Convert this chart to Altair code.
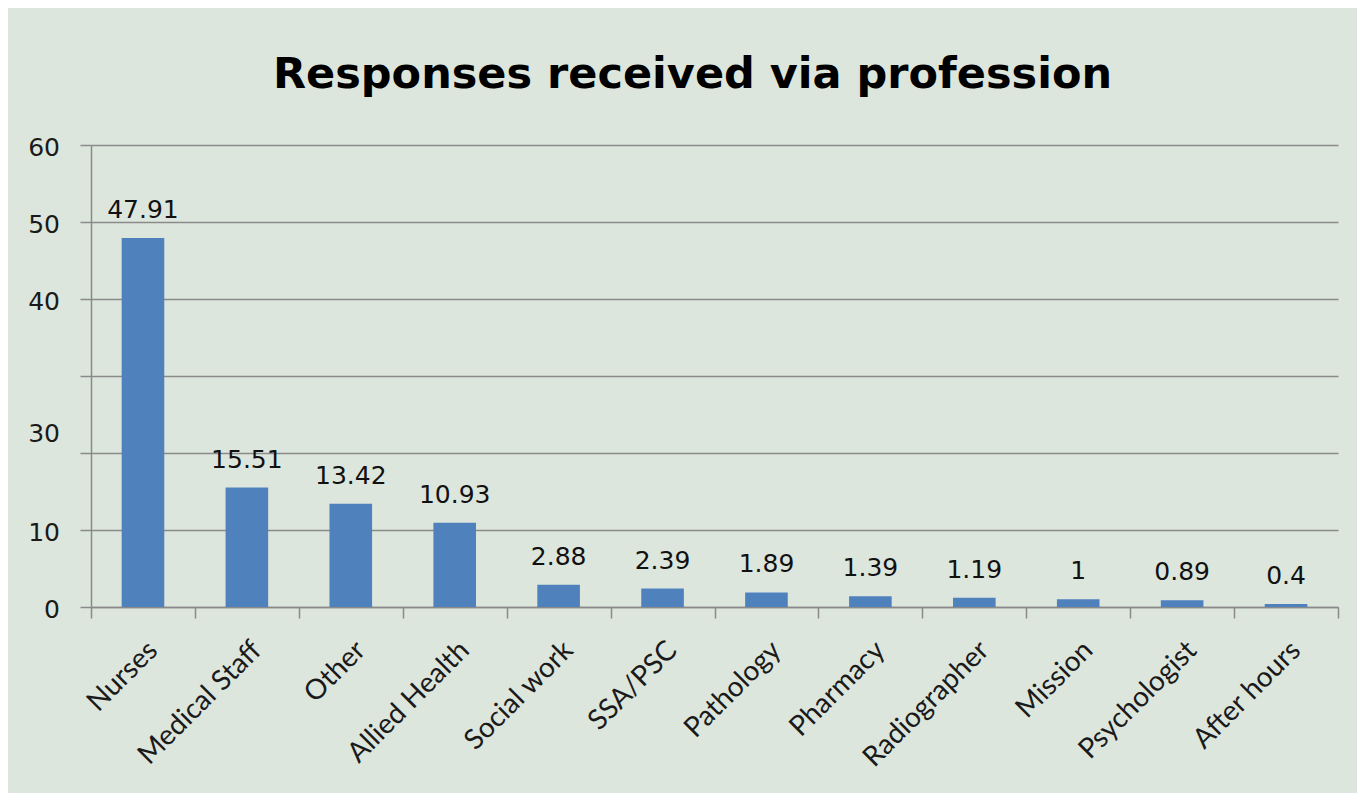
import altair as alt
import pandas as pd

categories = ["Nurses", "Medical Staff", "Other", "Allied Health", "Social work",
              "SSA/PSC", "Pathology", "Pharmacy", "Radiographer", "Mission",
              "Psychologist", "After hours"]
values = [47.91, 15.51, 13.42, 10.93, 2.88, 2.39, 1.89, 1.39, 1.19, 1, 0.89, 0.4]
value_labels = ["47.91", "15.51", "13.42", "10.93", "2.88", "2.39", "1.89",
                "1.39", "1.19", "1", "0.89", "0.4"]
grid_values = [0, 10, 20, 30, 40, 50, 60]
y_tick_labels = ["0", "10", "30", "40", "50", "60"]
y_tick_label_pos = [0, 10, 22.8, 40, 50, 60]

df = pd.DataFrame({"cat": categories, "val": values, "lab": value_labels})
ylab = pd.DataFrame({"t": y_tick_labels, "v": y_tick_label_pos})

GRAY = "#8a8a8a"

y_axis = alt.Axis(values=grid_values, labels=False, tickSize=11, tickColor=GRAY,
                  tickWidth=1.5, domainColor=GRAY, domainWidth=1.5, grid=True,
                  gridColor=GRAY, gridWidth=1.5)
y_scale = alt.Scale(domain=[0, 60], nice=False)

x_enc = alt.X(
    "cat:N", sort=categories, title=None,
    scale=alt.Scale(paddingInner=0, paddingOuter=0),
    axis=alt.Axis(labelAngle=-45, labelFont="Lato", labelFontSize=28,
                  labelColor="#1a1a1a", tickBand="extent", domainColor=GRAY,
                  domainWidth=1.5, tickColor=GRAY, tickWidth=1.5, tickSize=11,
                  labelPadding=18, labelOffset=0, grid=False, labelAlign="right",
                  labelBaseline="top"),
)

bars = alt.Chart(df).mark_bar(color="#4f81bd", width={"band": 0.41}).encode(
    x=x_enc, y=alt.Y("val:Q", title=None, scale=y_scale, axis=y_axis))

labels = alt.Chart(df).mark_text(
    font="DejaVu Sans", fontSize=25, color="#111111", baseline="alphabetic",
    dy=-20
).encode(x=alt.X("cat:N", sort=categories),
         y=alt.Y("val:Q", title=None, scale=y_scale, axis=y_axis),
         text="lab:N")

ylabels = alt.Chart(ylab).mark_text(
    font="DejaVu Sans", fontSize=25, color="#1a1a1a", align="right",
    baseline="middle", dy=3
).encode(x=alt.value(-31),
         y=alt.Y("v:Q", title=None, scale=y_scale, axis=y_axis),
         text="t:N")

chart = alt.layer(bars, labels, ylabels).properties(
    width=1247, height=462,
    autosize=alt.AutoSizeParams(type="none"),
    padding={"left": 83, "top": 137, "right": 19, "bottom": 186},
    background="#dde6dd",
    title=alt.TitleParams(
        "Responses received via profession", font="DejaVu Sans", fontSize=43,
        fontWeight="bold", color="#000000", anchor="middle", offset=5,
        baseline="alphabetic", dx=-22,
    ),
).configure_view(stroke=None)

chart.save("out.html", embed_options={"renderer": "svg", "actions": False})
